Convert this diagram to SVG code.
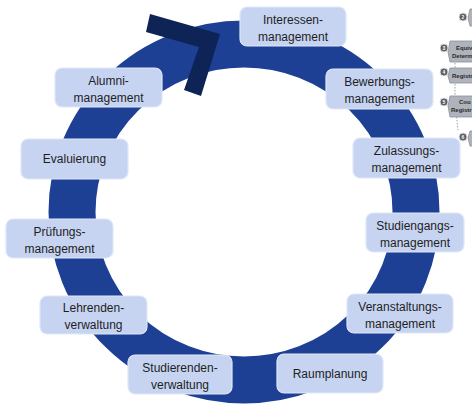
<svg xmlns="http://www.w3.org/2000/svg" width="472" height="407" viewBox="0 0 472 407">
<style>
.box{fill:#c6d4f2;stroke:#dfe7f8;stroke-width:1.2}
.t{font-family:"Liberation Sans",Arial,sans-serif;font-size:12px;fill:#1e1e1e;text-anchor:middle}
.gb{fill:#aeb3bc;stroke:#8c9099;stroke-width:0.8}
.gc{fill:#5a5d63;stroke:#d9dbe0;stroke-width:1}
.gt{font-family:"Liberation Sans",Arial,sans-serif;font-size:6px;font-weight:bold;fill:#2a2a2a}
.gn{font-family:"Liberation Sans",Arial,sans-serif;font-size:5px;font-weight:bold;fill:#fff;text-anchor:middle}
</style>
<rect width="472" height="407" fill="#ffffff"/>
<g id="connectors">
<ellipse cx="244" cy="212" rx="172" ry="168" fill="none" stroke="#1d3f94" stroke-width="47"/>
<polygon points="150,14 220,34 201,96 184,90 199,47 146,32" fill="#0e2457"/>
</g>
<g id="fragment">
<path d="M455,54 L455,102 L458,130" fill="none" stroke="#777" stroke-width="0.7" stroke-dasharray="1.5,1.5"/>
<polygon class="gb" points="470,9 480,9 480,26 470,26 468,18"/>
<polygon class="gb" points="450,41 480,41 480,62 450,62 448,52"/>
<polygon class="gb" points="450,68 480,68 480,83 450,83 448,76"/>
<polygon class="gb" points="450,96 480,96 480,117 450,117 448,106"/>
<polygon class="gb" points="470,131 480,131 480,146 470,146 468,138"/>
<text class="gt" x="456" y="50">Equiva</text>
<text class="gt" x="452" y="58">Determi</text>
<text class="gt" x="452" y="78">Registr</text>
<text class="gt" x="459" y="104">Cou</text>
<text class="gt" x="451" y="112">Registr</text>
<circle class="gc" cx="463" cy="17" r="4"/><text class="gn" x="463" y="18.8">2</text>
<circle class="gc" cx="444" cy="48" r="4"/><text class="gn" x="444" y="49.8">3</text>
<circle class="gc" cx="444" cy="72" r="4"/><text class="gn" x="444" y="73.8">4</text>
<circle class="gc" cx="444" cy="102" r="4"/><text class="gn" x="444" y="103.8">5</text>
<circle class="gc" cx="463" cy="137" r="4"/><text class="gn" x="463" y="138.8">6</text>
</g>
<g id="interessen"><rect class="box" x="240" y="7" width="106" height="39" rx="7"/><text class="t" x="293" y="24">Interessen-</text><text class="t" x="293" y="41">management</text></g>
<g id="bewerbung"><rect class="box" x="326" y="69" width="107" height="40" rx="7"/><text class="t" x="379.5" y="86">Bewerbungs-</text><text class="t" x="379.5" y="103">management</text></g>
<g id="zulassung"><rect class="box" x="353" y="138" width="107" height="40" rx="7"/><text class="t" x="406.5" y="155">Zulassungs-</text><text class="t" x="406.5" y="172">management</text></g>
<g id="studiengang"><rect class="box" x="366" y="213" width="98" height="39" rx="7"/><text class="t" x="415" y="230">Studiengangs-</text><text class="t" x="415" y="247">management</text></g>
<g id="veranstaltung"><rect class="box" x="347" y="294" width="106" height="39" rx="7"/><text class="t" x="400" y="311">Veranstaltungs-</text><text class="t" x="400" y="328">management</text></g>
<g id="raumplanung"><rect class="box" x="277" y="354" width="106" height="39" rx="7"/><text class="t" x="330" y="378">Raumplanung</text></g>
<g id="studierende"><rect class="box" x="128" y="355" width="104" height="39" rx="7"/><text class="t" x="180" y="372">Studierenden-</text><text class="t" x="180" y="389">verwaltung</text></g>
<g id="lehrende"><rect class="box" x="40" y="296" width="107" height="38" rx="7"/><text class="t" x="93.5" y="312">Lehrenden-</text><text class="t" x="93.5" y="329">verwaltung</text></g>
<g id="pruefung"><rect class="box" x="6" y="219" width="107" height="39" rx="7"/><text class="t" x="59.5" y="236">Prüfungs-</text><text class="t" x="59.5" y="253">management</text></g>
<g id="evaluierung"><rect class="box" x="21" y="139" width="107" height="40" rx="7"/><text class="t" x="74.5" y="163">Evaluierung</text></g>
<g id="alumni"><rect class="box" x="55" y="68" width="107" height="39" rx="7"/><text class="t" x="108.5" y="85">Alumni-</text><text class="t" x="108.5" y="102">management</text></g>
</svg>
